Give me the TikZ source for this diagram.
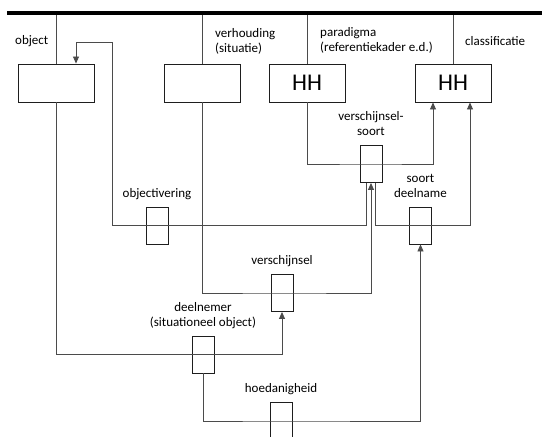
\documentclass[tikz,border=0pt]{standalone}
\usepackage{fontspec}
\setmainfont{Carlito}
\usepackage{tikz}
\usetikzlibrary{arrows.meta,positioning}
\definecolor{lijnkleur}{RGB}{75, 75, 75}
\definecolor{randkleur}{RGB}{30, 30, 30}

\begin{document}
\begin{tikzpicture}[x=1pt, y=-1pt,
	groot/.style={draw=randkleur, line width=0.9pt, minimum width=76pt,
		minimum height=38pt, inner sep=0pt, font=\fontsize{24}{28}\selectfont}, % grote blokken
	klein/.style={draw=randkleur, line width=0.9pt, minimum width=22pt,
		minimum height=37pt, inner sep=0pt}, % kleine blokken
	tekst/.style={inner sep=0pt, align=center, text depth=3pt,
		font=\fontsize{13}{15}\selectfont},
	kop/.style={inner sep=0pt, align=left, anchor=west,
		font=\fontsize{13}{15}\selectfont},
	lijn/.style={draw=lijnkleur, line width=0.8pt},
	pijl/.style={lijn, -{Triangle[width=6pt,length=7pt]}}]
\useasboundingbox (0,0) rectangle (542,437);

\coordinate (balk) at (7,13);
\coordinate (balkeind) at (542,13);
\coordinate (hoek) at (112,42);

% bovenste rij
\node[groot] (object) at (56,83) {};
\node[groot] (verhouding) at (202,83) {};
\node[groot] (paradigma) at (307,83) {HH};
\node[groot] (classificatie) at (453,83) {HH};

\node[kop] (object-t) at (15,41) {object};
\node[kop] (verhouding-t) at (215,41) {verhouding\\(situatie)};
\node[kop] (paradigma-t) at (320,40) {paradigma\\(referentiekader e.d.)};
\node[kop] (classificatie-t) at (465,41) {classificatie};

% kleine blokken
\node[klein] (verschijnselsoort) at (371,164) {};
\node[klein] (objectivering) at (157,225.5) {};
\node[klein] (soortdeelname) at (420.5,225.5) {};
\node[klein] (verschijnsel) at (282,293) {};
\node[klein] (deelnemer) at (203,354.5) {};
\node[klein] (hoedanigheid) at (281,421) {};

\node[tekst, above=6pt of verschijnselsoort] (verschijnselsoort-t) {verschijnsel-\\soort};
\node[tekst, above=6pt of objectivering] (objectivering-t) {objectivering};
\node[tekst, above=6pt of soortdeelname] (soortdeelname-t) {soort\\deelname};
\node[tekst, above=6pt of verschijnsel] (verschijnsel-t) {verschijnsel};
\node[tekst, above=6pt of deelnemer] (deelnemer-t) {deelnemer\\(situationeel object)};
\node[tekst, above=6pt of hoedanigheid] (hoedanigheid-t) {hoedanigheid};

% lijnen naar de balk
\draw[lijn] (object.north) -- (object.north |- balk);
\draw[lijn] (verhouding.north) -- (verhouding.north |- balk);
\draw[lijn] (paradigma.north) -- (paradigma.north |- balk);
\draw[lijn] (classificatie.north) -- (classificatie.north |- balk);
\draw[line width=4pt] (balk) -- (balkeind);

% verbindingen
\draw[pijl] (object.south) |- (deelnemer.center) -| (verschijnsel.south);
\draw[pijl] (verhouding.south) |- (verschijnsel.center) -| (verschijnselsoort.south);
\draw[pijl] ([xshift=-5pt]verschijnselsoort.south) |- (hoek |- objectivering.center)
	-- (hoek) -| ([xshift=20pt]object.north);
\draw[pijl] (paradigma.south) |- (verschijnselsoort.center) -| ([xshift=-20pt]classificatie.south);
\draw[pijl] ([xshift=4pt]verschijnselsoort.south) |- (soortdeelname.center)
	-| ([xshift=17pt]classificatie.south);
\draw[pijl] (deelnemer.south) |- (hoedanigheid.center) -| (soortdeelname.south);
\end{tikzpicture}
\end{document}
